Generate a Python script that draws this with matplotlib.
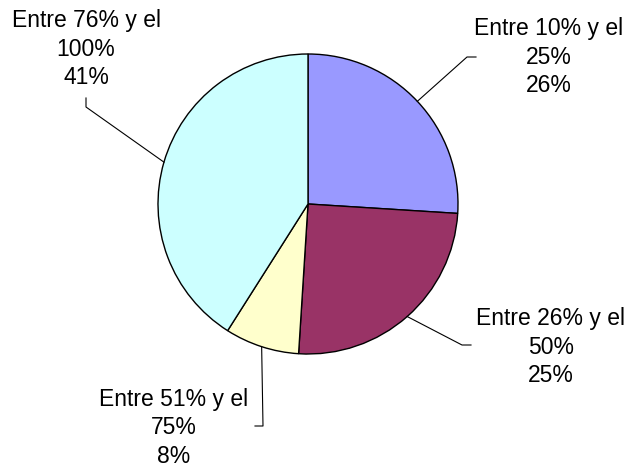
import matplotlib
matplotlib.use("Agg")
import matplotlib.pyplot as plt
import numpy as np

categories = ["Entre 10% y el\n25%", "Entre 26% y el\n50%", "Entre 51% y el\n75%", "Entre 76% y el\n100%"]
values = [26, 25, 8, 41]
colors = ["#9999FF", "#993366", "#FFFFCC", "#CCFFFF"]

W, H = 633, 463
cx, cy, r = 308, H - 204, 150

# label layout in pixels (y from top): text centre x, middle line y
label_pos = [(549, 57), (551, 347), (174, 428), (86, 49)]
elbows = [[(467, 57), (476, 57)],
          [(462, 345), (471, 345)],
          [(263, 426), (255, 426)],
          [(86, 107), (86, 98)]]

fig = plt.figure(figsize=(W / 100, H / 100), dpi=100)
ax = fig.add_axes([0, 0, 1, 1])
ax.pie(values, colors=colors, startangle=90, counterclock=False,
       center=(cx, cy), radius=r,
       wedgeprops=dict(edgecolor="black", linewidth=1.0))
ax.set_xlim(0, W)
ax.set_ylim(0, H)
ax.set_aspect("equal")
ax.axis("off")

start = 90.0
total = sum(values)
for i, v in enumerate(values):
    mid = start - v / total * 360 / 2
    start -= v / total * 360
    a = np.radians(mid)
    x0, y0 = cx + r * np.cos(a), cy + r * np.sin(a)
    xs = [x0] + [p[0] for p in elbows[i]]
    ys = [y0] + [H - p[1] for p in elbows[i]]
    ax.plot(xs, ys, color="black", lw=0.8)
    tx, ty = label_pos[i]
    ax.text(tx, H - ty, f"{categories[i]}\n{v}%", ha="center", va="center",
            fontsize=16.5, family="Liberation Sans", linespacing=1.3,
            transform=ax.transData)

fig.savefig("out.png", dpi=100)
